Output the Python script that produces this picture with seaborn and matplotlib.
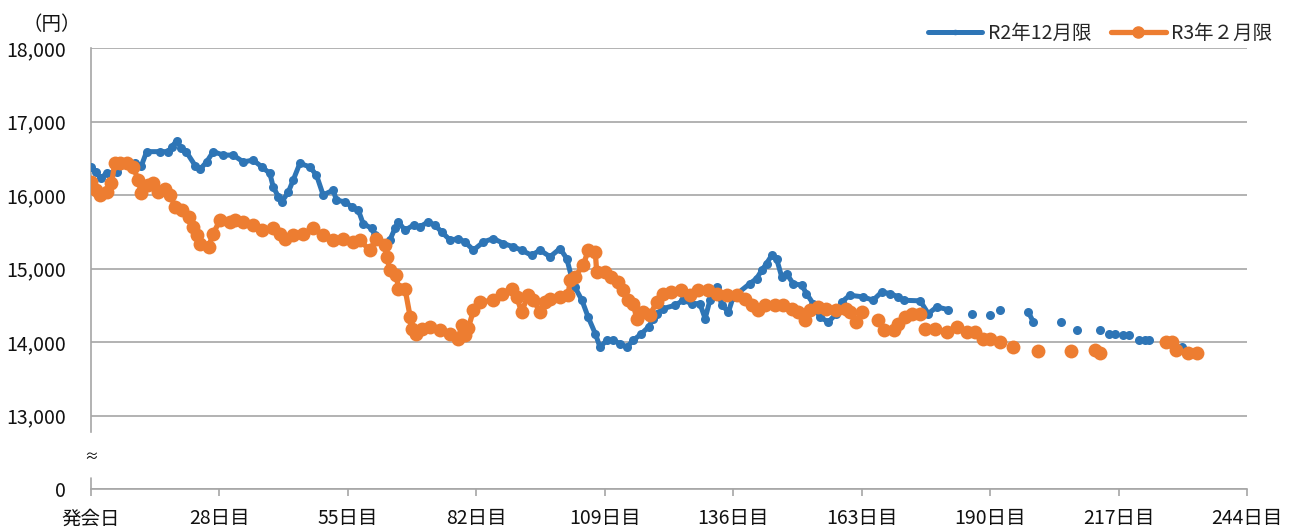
import numpy as np
import pandas as pd
import matplotlib
matplotlib.use("Agg")
import matplotlib.pyplot as plt
from matplotlib.lines import Line2D
import seaborn as sns

# ==========================================
# Data, None marks a break in trading
# ==========================================
x_ticks = [0, 27, 54, 81, 108, 135, 162, 189, 216, 243]
x_labels = ["発会日", "28日目", "55日目", "82日目", "109日目", "136日目",
            "163日目", "190日目", "217日目", "244日目"]
y_ticks = [12000, 13000, 14000, 15000, 16000, 17000, 18000]
y_labels = ["0", "13,000", "14,000", "15,000", "16,000", "17,000", "18,000"]

blue_days = [0, 1, 2, 3.3, 5.4, 7.5, 9.2, 10.6, 11.7, 14.5, 16.2, 17, 18, 19, 20,
             21.9, 22.9, 24.3, 25.7, 27.8, 29.9, 32, 34.1, 35.9, 37.6, 38.3, 39.4,
             40.1, 41.5, 42.5, 43.9, 46, 47.4, 48.8, 50.9, 51.6, 53.4, 54.8, 56.2,
             57.2, 59, 59.7, 62.2, 62.8, 63.9, 64.6, 66, 67.8, 69.1, 70.9, 72.3,
             73.7, 75.5, 77.2, 78.6, 80.4, 82.5, 84.6, 86.7, 88.8, 90.5, 92.6, 94.4,
             96.5, 98.6, 100, 101, 101.7, 103.2, 104.5, 106, 107, 108.4, 109.8,
             111.2, 112.6, 114, 115.7, 117.2, 118.2, 118.9, 120.3, 122.8, 124.5,
             126.3, 128, 129.1, 130.1, 131.5, 132.6, 134, 135, 138.5, 139.9, 141,
             142, 143.1, 144.1, 145.2, 146.2, 147.6, 149.4, 150.4, 151.8, 153.2,
             155, 156.7, 157.8, 159.5, 162.3, 164.4, 166.2, 168, 169.7, 170.8,
             174.3, 176, 177.8, 180.2, None, 185.1, None, 189, None, 191.1, None,
             197, 198.1, None, 204, None, 207.2, None, 212.1, None, 213.9, 215.3,
             None, 217, 218.1, None, 220.2, 221.6, 222.3, None, 229.3]
blue_price = [16380, 16315, 16230, 16294, 16315, 16450, 16430, 16400, 16590, 16590,
              16590, 16656, 16740, 16634, 16590, 16400, 16348, 16450, 16590, 16543,
              16543, 16450, 16475, 16383, 16294, 16110, 15975, 15907, 16043, 16202,
              16430, 16383, 16270, 16000, 16066, 15930, 15907, 15840, 15793, 15612,
              15545, 15453, 15317, 15385, 15545, 15635, 15520, 15590, 15566, 15635,
              15590, 15498, 15385, 15408, 15362, 15250, 15362, 15408, 15340, 15294,
              15250, 15180, 15250, 15160, 15272, 15136, 14885, 14750, 14568, 14340,
              14114, 13930, 14023, 14023, 13978, 13930, 14023, 14114, 14204, 14318,
              14386, 14455, 14500, 14568, 14522, 14522, 14318, 14568, 14750, 14500,
              14410, 14614, 14795, 14863, 14976, 15068, 15180, 15136, 14885, 14930,
              14795, 14772, 14659, 14522, 14340, 14272, 14386, 14545, 14636, 14614,
              14568, 14680, 14659, 14614, 14568, 14560, 14386, 14477, 14440, None,
              14386, None, 14363, None, 14440, None, 14410, 14272, None, 14272, None,
              14170, None, 14170, None, 14114, 14114, None, 14090, 14090, None,
              14033, 14033, 14033, None, 13930]

orange_days = [0, 1, 1.9, 3.3, 4.3, 5, 6.1, 7.5, 8.9, 9.9, 10.6, 12, 13.1, 14.1, 15.6,
               16.6, 17.7, 19.1, 20.5, 21.5, 22.2, 22.9, 24.7, 25.7, 27.1, 29.2, 30.3,
               32, 34.1, 35.9, 38.3, 39.7, 40.8, 42.5, 44.6, 46.7, 48.8, 50.9, 53,
               55.1, 56.5, 58.6, 60, 61.8, 62.2, 62.8, 64.2, 64.6, 66, 67.1, 67.4,
               68.4, 69.5, 71.3, 73.4, 75.5, 77.2, 77.9, 78.6, 79.3, 80.4, 81.8, 84.6,
               86.4, 88.4, 89.5, 90.5, 91.9, 93, 94.4, 95.4, 96.5, 98.6, 100.3, 100.7,
               101.7, 103.5, 104.5, 106, 106.3, 108, 109.4, 110.8, 111.9, 112.9, 114,
               114.7, 116.1, 117.5, 118.9, 120.3, 122, 124.1, 125.9, 127.6, 129.7,
               131.5, 133.6, 135.7, 137.5, 138.9, 140.3, 141.7, 143.8, 145.5, 147.3,
               148.7, 150.1, 151.1, 152.9, 154.6, 156.7, 158.8, 159.5, 160.9, 162,
               None, 165.5, 166.6, 168.7, 169.7, 171.1, 172.5, 174.3, None, 175.3,
               177.4, 179.9, 182, 184.1, 185.8, 187.6, 189, 191.1, None, 193.9, None,
               199, None, 206.1, None, 211, 212.1, None, 225.9, 227.3, 228, None,
               230.7, 232.4]
orange_price = [16180, 16066, 16000, 16043, 16157, 16430, 16430, 16430, 16383, 16202,
                16023, 16134, 16157, 16043, 16088, 16000, 15840, 15793, 15703, 15566,
                15453, 15340, 15294, 15476, 15657, 15635, 15657, 15635, 15590, 15520,
                15545, 15476, 15408, 15453, 15476, 15545, 15453, 15385, 15408, 15362,
                15385, 15250, 15408, 15317, 15160, 14976, 14908, 14727, 14727, 14340,
                14182, 14114, 14182, 14204, 14160, 14114, 14045, 14230, 14100, 14190,
                14430, 14545, 14568, 14659, 14727, 14614, 14410, 14636, 14568, 14410,
                14545, 14590, 14614, 14636, 14840, 14885, 15045, 15250, 15227, 14955,
                14955, 14885, 14817, 14704, 14568, 14522, 14318, 14410, 14363, 14545,
                14659, 14680, 14704, 14636, 14704, 14704, 14659, 14636, 14636, 14590,
                14500, 14432, 14500, 14500, 14500, 14455, 14410, 14295, 14432, 14477,
                14455, 14432, 14455, 14410, 14272, 14410, None, 14295, 14160, 14160,
                14250, 14340, 14386, 14386, None, 14182, 14182, 14136, 14204, 14136,
                14136, 14045, 14045, 14000, None, 13930, None, 13880, None, 13876,
                None, 13885, 13850, None, 14000, 14000, 13885, None, 13850, 13850]

BLUE = "#2E75B6"
ORANGE = "#ED7D31"
GRID = "#A6A6A6"
INK = "#111111"


def to_frame(days, prices):
    df = pd.DataFrame({"day": days, "price": prices}, dtype=float)
    df["seg"] = df["price"].isna().cumsum()
    return df.dropna()


blue = to_frame(blue_days, blue_price)
orange = to_frame(orange_days, orange_price)

# ==========================================
# Plot
# ==========================================
sns.set_theme(style="white")
plt.rcParams["font.family"] = ["Noto Sans CJK JP", "DejaVu Sans"]

fig = plt.figure(figsize=(13.01, 5.30), dpi=100)
ax = fig.add_axes([91 / 1301, 1 - 489 / 530, (1247 - 91) / 1301, (489 - 48) / 530])

sns.lineplot(data=blue, x="day", y="price", units="seg", estimator=None,
             color=BLUE, linewidth=3.6, marker="o", markersize=6.5,
             markeredgewidth=0, legend=False, ax=ax, zorder=3)
sns.lineplot(data=orange, x="day", y="price", units="seg", estimator=None,
             color=ORANGE, linewidth=3.8, marker="o", markersize=10,
             markeredgewidth=0, legend=False, ax=ax, zorder=4)

ax.set_xlim(0, 243)
ax.set_ylim(12000, 18000)
ax.set_xticks(x_ticks)
ax.set_xticklabels(x_labels)
ax.set_yticks(y_ticks)
ax.set_yticklabels(y_labels)
ax.set_xlabel("")
ax.set_ylabel("")

ax.grid(True, axis="y", color=GRID, linewidth=1.2)
ax.set_axisbelow(True)
for side in ["top", "right"]:
    ax.spines[side].set_visible(False)
for side in ["left", "bottom"]:
    ax.spines[side].set_color(GRID)
    ax.spines[side].set_linewidth(1.2)
# broken value axis between 0 and 13,000
ax.spines["left"].set_bounds(12780, 18000)
ax.axvline(0, ymin=0, ymax=0.025, color=GRID, linewidth=1.2, clip_on=False)
ax.text(0, 0.073, "≈", transform=ax.transAxes, ha="center",
        va="center", fontsize=10, color=INK)

ax.tick_params(axis="x", bottom=True, length=5, width=1.2, color=GRID,
               labelsize=14, pad=9, labelcolor=INK)
ax.tick_params(axis="y", left=False, length=0, labelsize=14, pad=18,
               labelcolor=INK)

fig.text(52 / 1301, 1 - 24 / 530, "（円）", ha="center", va="center",
         fontsize=14, color=INK)

handles = [
    Line2D([], [], color=BLUE, linewidth=3.6, marker="o", markersize=3),
    Line2D([], [], color=ORANGE, linewidth=3.8, marker="o", markersize=8),
]
fig.legend(handles, ["R2年12月限", "R3年２月限"], loc="center right",
           bbox_to_anchor=(1290 / 1301, 1 - 33 / 530), ncol=2, frameon=False,
           fontsize=14, numpoints=1, handlelength=2.8, handletextpad=0.3,
           columnspacing=1.0)

fig.savefig("out.png", dpi=100)
